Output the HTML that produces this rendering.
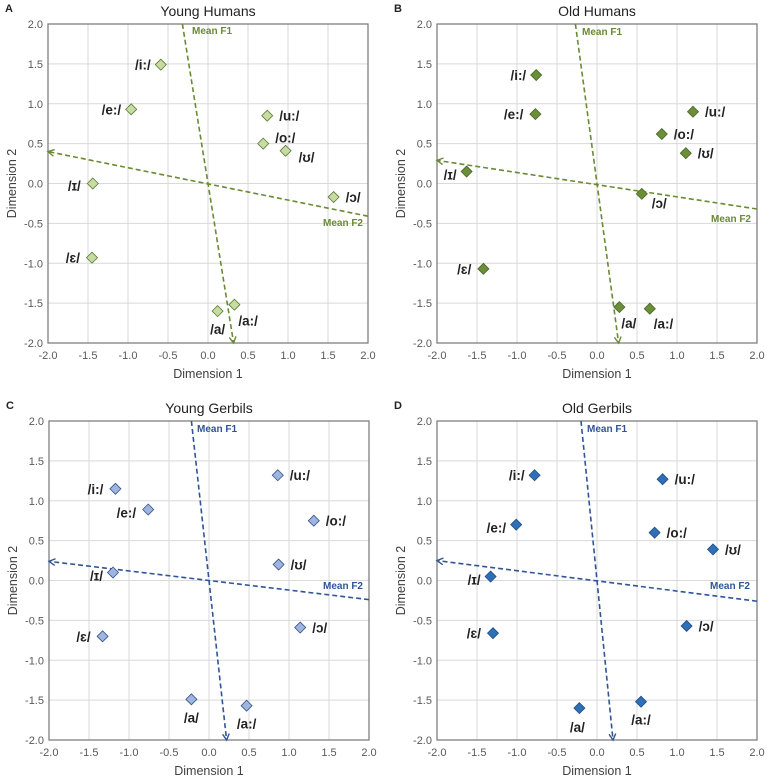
<!DOCTYPE html>
<html><head><meta charset="utf-8"><style>
body{margin:0;background:#fff;}
svg{display:block;font-family:"Liberation Sans",sans-serif;}
</style></head><body>
<svg id="fig" width="767" height="780" viewBox="0 0 767 780"></svg>
<script>
const vowelLabels=["/i:/","/e:/","/u:/","/o:/","/ʊ/","/ɔ/","/ɪ/","/ɛ/","/a/","/a:/"];
const axisTicks=[-2,-1.5,-1,-0.5,0,0.5,1,1.5,2];
const tickLabels=["-2.0","-1.5","-1.0","-0.5","0.0","0.5","1.0","1.5","2.0"];
const youngHumansX=[-0.59,-0.96,0.74,0.69,0.97,1.57,-1.44,-1.45,0.12,0.33];
const youngHumansY=[1.49,0.93,0.85,0.50,0.41,-0.17,0.00,-0.93,-1.60,-1.52];
const youngHumansF1=[-0.32,2,0.32,-2];
const youngHumansF2=[2,-0.41,-2,0.40];
const oldHumansX=[-0.76,-0.77,1.20,0.81,1.11,0.56,-1.63,-1.42,0.28,0.66];
const oldHumansY=[1.36,0.87,0.90,0.62,0.38,-0.13,0.15,-1.07,-1.55,-1.57];
const oldHumansF1=[-0.27,2,0.27,-2];
const oldHumansF2=[2,-0.32,-2,0.29];
const youngGerbilsX=[-1.17,-0.76,0.86,1.31,0.87,1.14,-1.20,-1.33,-0.22,0.47];
const youngGerbilsY=[1.15,0.89,1.32,0.75,0.20,-0.59,0.10,-0.70,-1.49,-1.57];
const youngGerbilsF1=[-0.22,2,0.22,-2];
const youngGerbilsF2=[2,-0.24,-2,0.24];
const oldGerbilsX=[-0.78,-1.01,0.82,0.72,1.45,1.12,-1.33,-1.30,-0.22,0.55];
const oldGerbilsY=[1.32,0.70,1.27,0.60,0.39,-0.57,0.05,-0.66,-1.60,-1.52];
const oldGerbilsF1=[-0.20,2,0.20,-2];
const oldGerbilsF2=[2,-0.26,-2,0.25];

const NS="http://www.w3.org/2000/svg";
const svg=document.getElementById('fig');
function mk(tag,attrs,parent,text){const e=document.createElementNS(NS,tag);for(const k in attrs)e.setAttribute(k,attrs[k]);if(text!==undefined)e.textContent=text;(parent||svg).appendChild(e);return e;}

const panels=[
 {key:"young-humans",letter:"A",title:"Young Humans",x0:48,x1:368,y0:24,y1:343,xs:youngHumansX,ys:youngHumansY,f1:youngHumansF1,f2:youngHumansF2,fill:"#c6dca4",stroke:"#5b7a2d",line:"#6b8a35",f1lab:[192,34],f2lab:[363,226],
  off:[[-10,5,"end"],[-10,5,"end"],[12,5,"start"],[12,-1,"start"],[13,11,"start"],[12,5,"start"],[-12,7,"end"],[-12,5,"end"],[0,23,"middle"],[4,21,"start"]]},
 {key:"old-humans",letter:"B",title:"Old Humans",x0:437,x1:757,y0:24,y1:343,xs:oldHumansX,ys:oldHumansY,f1:oldHumansF1,f2:oldHumansF2,fill:"#6b8e3a",stroke:"#4a6624",line:"#6b8a35",f1lab:[582,35],f2lab:[751,222],
  off:[[-10,5,"end"],[-12,5,"end"],[12,5,"start"],[12,5,"start"],[12,5,"start"],[10,14,"start"],[-10,8,"end"],[-12,5,"end"],[2,21,"start"],[4,20,"start"]]},
 {key:"young-gerbils",letter:"C",title:"Young Gerbils",x0:49,x1:369,y0:421,y1:740,xs:youngGerbilsX,ys:youngGerbilsY,f1:youngGerbilsF1,f2:youngGerbilsF2,fill:"#9fb5dd",stroke:"#2f528f",line:"#2f5597",f1lab:[197,432],f2lab:[363,589],
  off:[[-12,5,"end"],[-12,8,"end"],[12,5,"start"],[12,5,"start"],[12,5,"start"],[12,5,"start"],[-10,8,"end"],[-12,5,"end"],[0,23,"middle"],[0,23,"middle"]]},
 {key:"old-gerbils",letter:"D",title:"Old Gerbils",x0:437,x1:757,y0:421,y1:740,xs:oldGerbilsX,ys:oldGerbilsY,f1:oldGerbilsF1,f2:oldGerbilsF2,fill:"#2e6fb5",stroke:"#1f4e85",line:"#2f5597",f1lab:[587,432],f2lab:[750,589],
  off:[[-10,5,"end"],[-10,8,"end"],[12,5,"start"],[12,5,"start"],[12,5,"start"],[12,5,"start"],[-10,8,"end"],[-12,5,"end"],[-2,24,"middle"],[0,23,"middle"]]}
];

panels.forEach(p=>{
 const g=mk('g',{});
 
 
 const sx=v=>p.x0+(v+2)/4*(p.x1-p.x0);
 const sy=v=>p.y1-(v+2)/4*(p.y1-p.y0);
 const lt=mk('text',{x:p.x0-43,y:p.y0-12,'font-size':11,'font-weight':'bold',fill:'#222'},g,p.letter);
 
 
 const tt=mk('text',{x:(p.x0+p.x1)/2,y:p.y0-8,'font-size':14,'text-anchor':'middle',fill:'#222'},g,p.title);
 
 
 axisTicks.forEach((t,i)=>{
  mk('line',{x1:sx(t),x2:sx(t),y1:p.y0,y2:p.y1,stroke:'#d9d9d9','stroke-width':1},g);
  mk('line',{x1:p.x0,x2:p.x1,y1:sy(t),y2:sy(t),stroke:'#d9d9d9','stroke-width':1},g);
  const xl=mk('text',{x:sx(t),y:p.y1+16,'font-size':11,'text-anchor':'middle',fill:'#595959'},g,tickLabels[i]);
  
  
  const yl=mk('text',{x:p.x0-5,y:sy(t)+4,'font-size':11,'text-anchor':'end',fill:'#595959'},g,tickLabels[i]);
  
  
 });
 const fr=mk('rect',{x:p.x0,y:p.y0,width:p.x1-p.x0,height:p.y1-p.y0,fill:'none',stroke:'#7f7f7f','stroke-width':1.3},g);
 
 
 const xt=mk('text',{x:(p.x0+p.x1)/2,y:p.y1+35,'font-size':12.5,'text-anchor':'middle',fill:'#404040'},g,'Dimension 1');
 
 
 const cy=(p.y0+p.y1)/2, cx=p.x0-32;
 const yt=mk('text',{x:cx,y:cy,'font-size':12.5,'text-anchor':'middle',fill:'#404040',transform:'rotate(-90 '+cx+' '+cy+')'},g,'Dimension 2');
 
 
 // mean lines
 [[p.f1,'mean-f1-line'],[p.f2,'mean-f2-line']].forEach(([f,nm])=>{
  const ax=sx(f[0]),ay=sy(f[1]),bx=sx(f[2]),by=sy(f[3]);
  const ln=mk('line',{x1:ax,y1:ay,x2:bx,y2:by,stroke:p.line,'stroke-width':1.6,'stroke-dasharray':'5,3'},g);
  
  
  const ang=Math.atan2(by-ay,bx-ax),L=7,w=0.5;
  mk('polyline',{points:(bx-L*Math.cos(ang-w))+','+(by-L*Math.sin(ang-w))+' '+bx+','+by+' '+(bx-L*Math.cos(ang+w))+','+(by-L*Math.sin(ang+w)),fill:'none',stroke:p.line,'stroke-width':1.4},g);
 });
 const m1=mk('text',{x:p.f1lab[0],y:p.f1lab[1],'font-size':10,'font-weight':'bold',fill:p.line},g,'Mean F1');
 
 
 const m2=mk('text',{x:p.f2lab[0],y:p.f2lab[1],'font-size':10,'font-weight':'bold','text-anchor':'end',fill:p.line},g,'Mean F2');
 
 
 // points
 p.xs.forEach((xv,i)=>{
  const px=sx(xv),py=sy(p.ys[i]),r=5.5;
  const d=mk('polygon',{points:px+','+(py-r)+' '+(px+r)+','+py+' '+px+','+(py+r)+' '+(px-r)+','+py,fill:p.fill,stroke:p.stroke,'stroke-width':0.8},g);
  
  
  const o=p.off[i];
  const tl=mk('text',{x:px+o[0],y:py+o[1],'font-size':13.5,'font-weight':'bold','text-anchor':o[2],fill:'#222'},g,vowelLabels[i]);
  
  
 });
});
</script>
</body></html>
